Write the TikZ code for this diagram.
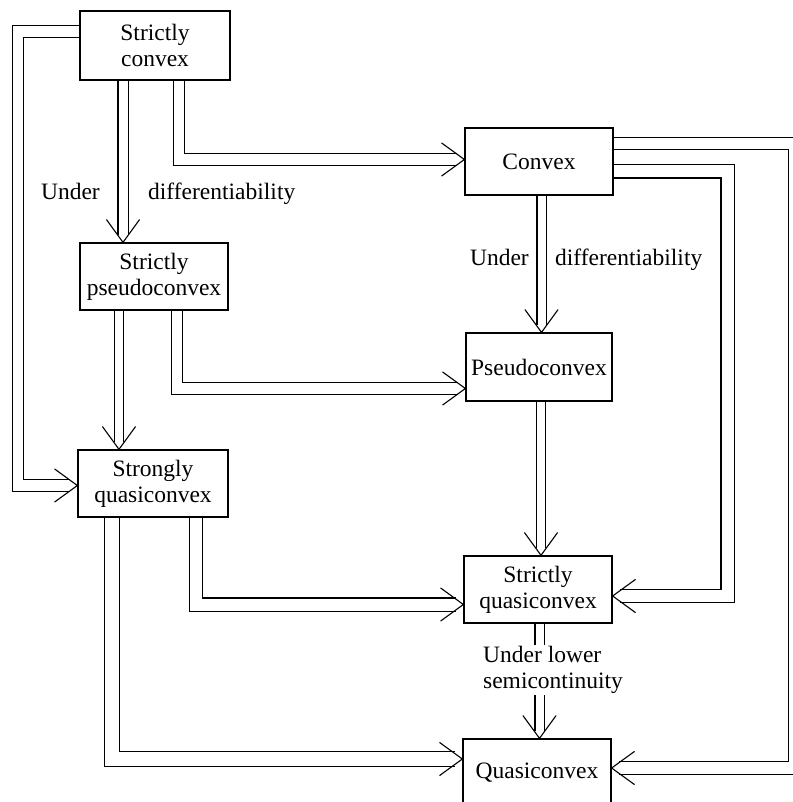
\documentclass[tikz,border=0pt]{standalone}
\usepackage{fontspec}
\setmainfont{Liberation Serif}
\usetikzlibrary{backgrounds,calc}
\tikzset{
  box/.style={draw, line width=1.3pt, fill=white, minimum width=148pt, minimum height=67pt,
    align=center, inner sep=2pt, font=\fontsize{23.5}{26}\selectfont},
  dbl/.style={draw, line width=1.1pt, double, double distance=#1, shorten >=7pt},
  dbl/.default=10pt,
  vtipline/.style={draw, line width=1.1pt, line cap=round},
  lbl/.style={font=\fontsize{23.5}{26}\selectfont, inner sep=0pt}
}
\newcommand\vtip[2]{\draw[vtipline] (#1) ++(#2+36:28pt) -- (#1) -- ++(#2-36:28pt);}
\begin{document}
\begin{tikzpicture}[x=1pt,y=-1pt]
\useasboundingbox (0,0) rectangle (792,802);
% boxes
\node[box, minimum width=150pt, minimum height=69pt] (sc) at (155,45.5) {Strictly\\convex};
\node[box] (sp) at (154,276.5) {Strictly\\pseudoconvex};
\node[box, minimum width=150pt] (sq) at (153,483.5) {Strongly\\quasiconvex};
\node[box] (c) at (539,161.5) {Convex};
\node[box, minimum width=146pt, minimum height=68pt] (p) at (539,367) {Pseudoconvex};
\node[box] (sqc) at (538,589.5) {Strictly\\quasiconvex};
\node[box, minimum height=68pt] (q) at (537,773) {Quasiconvex};
% connectors
\begin{scope}[on background layer]
\draw[dbl=9pt] ([xshift=-32pt]sc.south) -- ([xshift=-31pt]sp.north);
\draw[dbl=10.5pt] ([xshift=24pt]sc.south) |- ([yshift=2pt]c.west);
\draw[dbl=10.5pt] ([yshift=14pt]sc.west) -| (18,485.5) -- ([yshift=-2pt]sq.west);
\draw[dbl=7.5pt] ([xshift=-35pt]sp.south) -- ([xshift=-34pt]sq.north);
\draw[dbl=10.5pt] ([xshift=23pt]sp.south) |- ([yshift=-21.5pt]p.west);
\draw[dbl=8pt] ([xshift=2.5pt]c.south) -- ([xshift=2.5pt]p.north);
\draw[dbl=12pt] ([yshift=-10pt]c.east) -| (727.5,596) -- ([yshift=-6.5pt]sqc.east);
\draw[dbl=11.5pt] ([yshift=18pt]c.east) -| (795,768) -- ([yshift=5pt]q.east);
\draw[dbl=8pt] ([xshift=2pt]p.south) -- ([xshift=3pt]sqc.north);
\draw[dbl=12pt] ([xshift=43pt]sq.south) |- ([yshift=-15pt]sqc.west);
\draw[dbl=14pt] ([xshift=-41pt]sq.south) |- ([yshift=14pt]q.west);
\draw[dbl=8pt] ([xshift=1.5pt]sqc.south) -- ([xshift=2.5pt]q.north);
\end{scope}
% arrow heads
\vtip{[xshift=-31pt]sp.north}{90}
\vtip{[yshift=2pt]c.west}{180}
\vtip{[yshift=-2pt]sq.west}{180}
\vtip{[xshift=-34pt]sq.north}{90}
\vtip{[yshift=-21.5pt]p.west}{180}
\vtip{[xshift=2.5pt]p.north}{90}
\vtip{[yshift=-6.5pt]sqc.east}{0}
\vtip{[yshift=5pt]q.east}{0}
\vtip{[xshift=3pt]sqc.north}{90}
\vtip{[yshift=-15pt]sqc.west}{180}
\vtip{[yshift=14pt]q.west}{180}
\vtip{[xshift=2.5pt]q.north}{90}
% labels
\node[lbl, anchor=base east] (u1) at (100,200) {Under};
\node[lbl, anchor=base west] (d1) at (148,200) {differentiability};
\node[lbl, anchor=base east] (u2) at (529,265) {Under};
\node[lbl, anchor=base west] (d2) at (555,265) {differentiability};
\node[lbl, fill=white, inner sep=1pt, align=left] (lsc) at (553,670) {Under lower\\semicontinuity};
\end{tikzpicture}
\end{document}
